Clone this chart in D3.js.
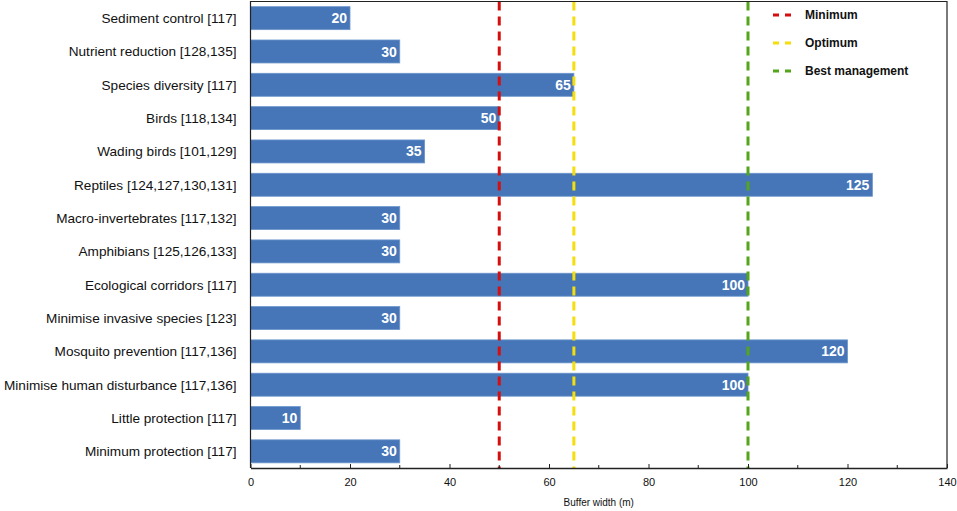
<!DOCTYPE html>
<html>
<head>
<meta charset="utf-8">
<script src="https://cdn.jsdelivr.net/npm/d3@7"></script>
<style>
  body { margin: 0; background: #fff; }
  text { font-family: "Liberation Sans", Arial, Helvetica, sans-serif; }
</style>
</head>
<body>
<div id="wrapper"></div>
<script>
// data
const categories = [
  "Sediment control [117]",
  "Nutrient reduction [128,135]",
  "Species diversity [117]",
  "Birds [118,134]",
  "Wading birds [101,129]",
  "Reptiles [124,127,130,131]",
  "Macro-invertebrates [117,132]",
  "Amphibians [125,126,133]",
  "Ecological corridors [117]",
  "Minimise invasive species [123]",
  "Mosquito prevention [117,136]",
  "Minimise human disturbance [117,136]",
  "Little protection [117]",
  "Minimum protection [117]"
]
const bufferWidths = [20, 30, 65, 50, 35, 125, 30, 30, 100, 30, 120, 100, 10, 30]
const refNames = ["Minimum", "Optimum", "Best management"]
const refValues = [50, 65, 100]
const refColors = ["#d50f0f", "#f4de0c", "#55a51c"]
const xTicks = [0, 20, 40, 60, 80, 100, 120, 140]
const xMinorTicks = [10, 30, 50, 70, 90, 110, 130]

// dimensions
const width = 957
const height = 511
const margin = { top: 1.5, right: 10, bottom: 43, left: 250.5 }
const boundedWidth = width - margin.left - margin.right
const boundedHeight = height - margin.top - margin.bottom

const svg = d3.select("#wrapper")
  .append("svg")
    .attr("width", width)
    .attr("height", height)

const bounds = svg.append("g")
  .attr("transform", `translate(${margin.left},${margin.top})`)

// scales
const xScale = d3.scaleLinear()
  .domain([0, 140])
  .range([0, 696.5])

const yScale = d3.scaleBand()
  .domain(categories)
  .range([0, boundedHeight])
  .paddingInner(0.31)
  .paddingOuter(0.155)

// bars
bounds.selectAll("rect.bar")
  .data(bufferWidths)
  .join("rect")
    .attr("class", "bar")
    .attr("x", 0)
    .attr("y", (d, i) => yScale(categories[i]))
    .attr("width", d => xScale(d))
    .attr("height", yScale.bandwidth())
    .attr("fill", "#4676b7")
    .attr("stroke", "#6d96cc")
    .attr("stroke-width", 0.8)

bounds.selectAll("text.val")
  .data(bufferWidths)
  .join("text")
    .attr("class", "val")
    .attr("x", d => xScale(d) - 3)
    .attr("y", (d, i) => yScale(categories[i]) + yScale.bandwidth() / 2)
    .attr("dy", "0.36em")
    .attr("text-anchor", "end")
    .attr("fill", "#fff")
    .style("font-size", "14px")
    .style("font-weight", "bold")
    .text(d => d)

// reference lines
bounds.selectAll("line.ref")
  .data(refValues)
  .join("line")
    .attr("class", "ref")
    .attr("x1", d => xScale(d))
    .attr("x2", d => xScale(d))
    .attr("y1", 0)
    .attr("y2", boundedHeight)
    .attr("stroke", (d, i) => refColors[i])
    .attr("stroke-width", 3)
    .attr("stroke-dasharray", "9 6")

// frame
const plotRight = xScale(140)
bounds.append("path")
  .attr("d", `M0,${boundedHeight}V0H${plotRight}V${boundedHeight}`)
  .attr("fill", "none")
  .attr("stroke", "#222")
  .attr("stroke-width", 1.2)

// x axis
const xAxis = bounds.append("g")
  .attr("transform", `translate(0,${boundedHeight})`)
  .call(d3.axisBottom(xScale).tickValues(xTicks).tickSizeInner(-4).tickSizeOuter(0).tickPadding(10))
xAxis.select(".domain").attr("stroke", "#222").attr("stroke-width", 1.5)
xAxis.selectAll(".tick line").attr("stroke", "#222")
xAxis.selectAll(".tick text")
  .attr("fill", "#111")
  .style("font-size", "11px")
  .style("font-family", '"Liberation Sans", Arial, sans-serif')

xAxis.selectAll("line.minor")
  .data(xMinorTicks)
  .join("line")
    .attr("class", "minor")
    .attr("x1", d => xScale(d))
    .attr("x2", d => xScale(d))
    .attr("y1", 0)
    .attr("y2", -3)
    .attr("stroke", "#222")

xAxis.append("text")
  .attr("x", plotRight / 2)
  .attr("y", 38)
  .attr("text-anchor", "middle")
  .attr("fill", "#111")
  .style("font-size", "10px")
  .text("Buffer width (m)")

// y labels
bounds.selectAll("text.cat")
  .data(categories)
  .join("text")
    .attr("class", "cat")
    .attr("x", -14)
    .attr("y", d => yScale(d) + yScale.bandwidth() / 2)
    .attr("dy", "0.36em")
    .attr("text-anchor", "end")
    .attr("fill", "#111")
    .style("font-size", "13.6px")
    .text(d => d)

// legend
const legend = svg.append("g")
  .attr("transform", "translate(773,0)")
const legendItems = legend.selectAll("g")
  .data(refNames)
  .join("g")
    .attr("transform", (d, i) => `translate(0,${15 + i * 28})`)
legendItems.append("line")
  .attr("x1", 0)
  .attr("x2", 18)
  .attr("stroke", (d, i) => refColors[i])
  .attr("stroke-width", 3)
  .attr("stroke-dasharray", "6 6")
legendItems.append("text")
  .attr("x", 32)
  .attr("dy", "0.36em")
  .attr("fill", "#111")
  .style("font-size", "12px")
  .style("font-weight", "bold")
  .text(d => d)
</script>
</body>
</html>
